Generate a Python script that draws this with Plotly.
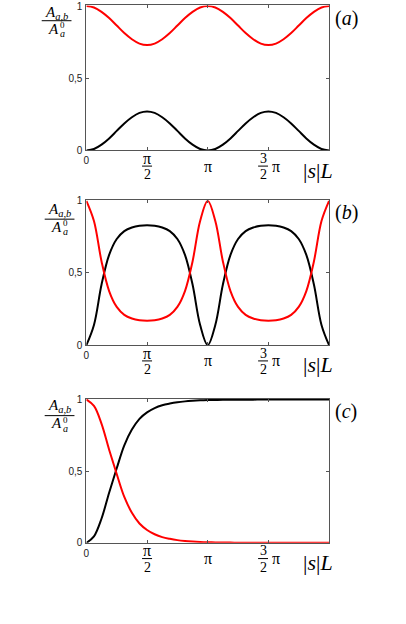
import numpy as np
import plotly.graph_objects as go

W, H = 406, 624

# sample points along |s|L, in steps of pi/16 from 0 to 2*pi
steps = list(range(33))
sL = [k * np.pi / 16 for k in steps]

# (a) weak coupling: small periodic exchange
a_black = [0, .010, .040, .083, .135, .187, .230, .260, .270, .260, .230, .187, .135, .083, .040, .010, 0,
           .010, .040, .083, .135, .187, .230, .260, .270, .260, .230, .187, .135, .083, .040, .010, 0]
a_red = [1, .990, .960, .917, .865, .813, .770, .740, .730, .740, .770, .813, .865, .917, .960, .990, 1,
         .990, .960, .917, .865, .813, .770, .740, .730, .740, .770, .813, .865, .917, .960, .990, 1]

# (b) strong periodic exchange
b_black = [0, .14, .42, .625, .735, .79, .815, .827, .83, .827, .815, .79, .735, .625, .42, .14, 0,
           .14, .42, .625, .735, .79, .815, .827, .83, .827, .815, .79, .735, .625, .42, .14, 0]
b_red = [1, .86, .58, .375, .265, .21, .185, .173, .17, .173, .185, .21, .265, .375, .58, .86, 1,
         .86, .58, .375, .265, .21, .185, .173, .17, .173, .185, .21, .265, .375, .58, .86, 1]

# (c) complete conversion
c_black = [0, .045, .17, .35, .52, .68, .79, .865, .91, .94, .96, .972, .981, .987, .991, .994, .996,
           .997, .998, .998, .999, .999, .999, 1, 1, 1, 1, 1, 1, 1, 1, 1, 1]
c_red = [1, .955, .83, .65, .48, .32, .21, .135, .09, .06, .04, .028, .019, .013, .009, .006, .004,
         .003, .002, .002, .001, .001, .001, 0, 0, 0, 0, 0, 0, 0, 0, 0, 0]

panel_names = ["(a)", "(b)", "(c)"]
panel_px = [(0.5, 148), (198.7, 346.3), (401, 547.5)]  # top, bottom in pixels
ylab_px = [(54, 8, 16, 24), (57, 209, 218, 226), (57, 408, 418, 426)]
series = [(a_black, a_red), (b_black, b_red), (c_black, c_red)]

SERIF = "Liberation Serif"
SANS = "Liberation Sans"
PI = "π"


def px(x):
    return x / W


def py(y):
    return 1 - y / H


fig = go.Figure()
annotations = []
shapes = []

for i, (blk, red) in enumerate(series):
    n = "" if i == 0 else str(i + 1)
    fig.add_trace(go.Scatter(x=sL, y=blk, mode="lines", line=dict(color="black", width=2, shape="spline"),
                             xaxis="x" + n, yaxis="y" + n, showlegend=False, hoverinfo="skip"))
    fig.add_trace(go.Scatter(x=sL, y=red, mode="lines", line=dict(color="#ff0000", width=2, shape="spline"),
                             xaxis="x" + n, yaxis="y" + n, showlegend=False, hoverinfo="skip"))

    top, bot = panel_px[i]
    axstyle = dict(ticks="inside", ticklen=3, tickcolor="#555", showline=True, mirror="ticks",
                   linecolor="#555", linewidth=1, showgrid=False, zeroline=False,
                   tickfont=dict(family=SANS, size=10, color="#222"), ticklabelstandoff=1)
    fig.update_layout(**{
        "xaxis" + n: dict(domain=[px(84), px(328.5)], range=[0, 2 * np.pi], anchor="y" + n,
                          tickvals=[0, np.pi / 2, np.pi, 3 * np.pi / 2], ticktext=["0", "", "", ""], **axstyle),
        "yaxis" + n: dict(domain=[py(bot), py(top)], range=[0, 1.004], anchor="x" + n,
                          tickvals=[0, 0.5, 1], ticktext=["0", "0,5", "1"], **axstyle),
    })

    xr = "x" + n
    # x tick labels in math style
    annotations += [
        dict(text=PI, x=np.pi / 2, xref=xr, y=py(bot + 8), yref="paper", font=dict(size=16)),
        dict(text="2", x=np.pi / 2, xref=xr, y=py(bot + 25), yref="paper", font=dict(size=14)),
        dict(text=PI, x=np.pi, xref=xr, y=py(bot + 16), yref="paper", font=dict(size=16)),
        dict(text="3", x=px(262), xref="paper", y=py(bot + 8), yref="paper", font=dict(size=14)),
        dict(text="2", x=px(262), xref="paper", y=py(bot + 25), yref="paper", font=dict(size=14)),
        dict(text=PI, x=px(275), xref="paper", y=py(bot + 16), yref="paper", font=dict(size=16)),
        dict(text="|<i>s</i>|<i>L</i>", x=px(317), xref="paper", y=py(bot + 20), yref="paper", font=dict(size=22)),
        dict(text="(<i>" + panel_names[i][1] + "</i>)", x=px(346), xref="paper", y=py(top + 13), yref="paper",
             font=dict(size=20)),
    ]
    shapes += [
        dict(type="line", xref=xr, yref="paper", xsizemode="pixel", xanchor=np.pi / 2, x0=-5, x1=5,
             y0=py(bot + 16), y1=py(bot + 16), line=dict(color="black", width=1)),
        dict(type="line", xref="paper", yref="paper", x0=px(257), x1=px(267),
             y0=py(bot + 16), y1=py(bot + 16), line=dict(color="black", width=1)),
    ]

    # y label A_{a,b} / A_a^0
    cx, yn, yb, yd = ylab_px[i]
    annotations += [
        dict(text="<i>A</i><sub><i>a,b</i></sub>", x=px(cx), xref="paper", y=py(yn), yref="paper",
             font=dict(size=15)),
        dict(text="<i>A</i>", x=px(cx - 3), xref="paper", y=py(yd), yref="paper", font=dict(size=15)),
        dict(text="<i>a</i>", x=px(cx + 6), xref="paper", y=py(yd + 5), yref="paper", font=dict(size=10)),
        dict(text="0", x=px(cx + 6), xref="paper", y=py(yd - 4), yref="paper", font=dict(size=9)),
    ]
    shapes.append(dict(type="line", xref="paper", yref="paper", x0=px(cx - 15), x1=px(cx + 15),
                       y0=py(yb), y1=py(yb), line=dict(color="black", width=1)))

for a in annotations:
    a.update(showarrow=False, xanchor="center", yanchor="middle")
    a["font"].setdefault("family", SERIF)
    a["font"]["color"] = "black"

fig.update_layout(width=W, height=H, margin=dict(l=0, r=0, t=0, b=0),
                  paper_bgcolor="white", plot_bgcolor="white",
                  annotations=annotations, shapes=shapes)

page_fix = ("document.documentElement.style.margin='0';document.body.style.margin='0';"
            "document.documentElement.style.height='624px';document.body.style.height='624px';"
            "document.documentElement.style.overflow='hidden';document.body.style.overflow='hidden';")
fig.write_html("out.html", config={"displayModeBar": False}, post_script=page_fix)
